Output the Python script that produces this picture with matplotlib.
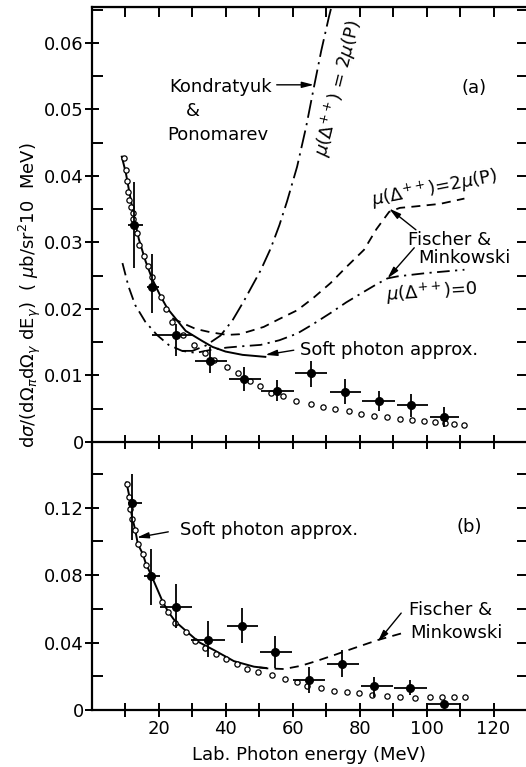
#!/usr/bin/env python3
"""Radiative pi+ p scattering: photon spectra, panels (a) and (b)."""

import numpy as np
import matplotlib

matplotlib.use("Agg")
import matplotlib.pyplot as plt

plt.rcParams["font.family"] = ["DejaVu Sans"]
plt.rcParams["mathtext.fontset"] = "dejavusans"

# ---------------- panel (a) ----------------
A_CIRC_X = [9.6, 10.1, 10.6, 10.9, 11.2, 11.7, 12.2, 12.4, 13.4, 14.1, 15.4, 16.6, 18.0,
            20.6, 22.1, 24.0, 27.3, 30.4, 33.8, 36.5, 40.2, 43.5, 47.2, 50.2, 53.5, 57.0,
            61.1, 65.3, 69.1, 72.7, 76.7, 80.3, 84.3, 88.1, 91.9, 95.7, 99.2, 102.6,
            105.5, 108.1, 111.1]
A_CIRC_Y = [0.0427, 0.0409, 0.0393, 0.0376, 0.0364, 0.0354, 0.0344, 0.0336, 0.0314, 0.0296,
            0.0279, 0.0265, 0.0248, 0.0218, 0.0200, 0.0180, 0.0161, 0.0146, 0.0134, 0.0123,
            0.0113, 0.0103, 0.0092, 0.0084, 0.0074, 0.0069, 0.0062, 0.0057, 0.0052, 0.0049,
            0.0046, 0.0042, 0.0039, 0.0037, 0.0035, 0.0033, 0.0032, 0.0030, 0.0029, 0.0027,
            0.0025]

A_PT_X = [12.6, 17.9, 25.1, 35.2, 45.4, 55.3, 65.5, 75.5, 85.7, 95.3, 105.3]
A_PT_Y = [0.0327, 0.0233, 0.0161, 0.0122, 0.0095, 0.0077, 0.0103, 0.0075, 0.0062, 0.0055, 0.0037]
A_PT_XLO = [10.7, 16.4, 17.9, 30.9, 40.9, 50.5, 60.8, 71.0, 80.6, 91.0, 101.0]
A_PT_XHI = [15.2, 19.9, 30.2, 40.4, 50.4, 60.5, 70.3, 80.5, 90.6, 100.5, 109.8]
A_PT_YLO = [0.0261, 0.0194, 0.0129, 0.0103, 0.0077, 0.0061, 0.0083, 0.0057, 0.0047, 0.0037, 0.0023]
A_PT_YHI = [0.0391, 0.0283, 0.0178, 0.0143, 0.0113, 0.0093, 0.0122, 0.0095, 0.0077, 0.0072, 0.0052]

A_SOFT_X = [8.9, 10.1, 11.0, 12.4, 14.0, 16.0, 18.0, 20.4, 22.5, 25.4, 28.0, 32.9, 36.0,
            39.9, 45.0, 51.8]
A_SOFT_Y = [0.0429, 0.0405, 0.0380, 0.0342, 0.0305, 0.0272, 0.0245, 0.0220, 0.0201, 0.0183,
            0.0167, 0.0152, 0.0143, 0.0136, 0.0131, 0.0128]

A_FM2_X = [24.0, 27.4, 31.0, 35.4, 40.4, 44.0, 47.4, 51.3, 56.0, 61.3, 66.0, 71.3, 76.0,
           81.3, 85.0, 88.8, 92.0, 96.3, 104.0, 111.3]
A_FM2_Y = [0.0186, 0.0178, 0.0170, 0.0165, 0.0161, 0.0162, 0.0167, 0.0173, 0.0185, 0.0198,
           0.0216, 0.0239, 0.0263, 0.0289, 0.0320, 0.0346, 0.0352, 0.0354, 0.0358, 0.0366]

A_FM0_X = [9.1, 10.9, 12.9, 15.9, 19.4, 22.9, 26.9, 31.0, 36.0, 40.4, 45.0, 50.4, 56.0,
           61.3, 66.0, 71.3, 76.0, 81.3, 85.0, 88.3, 91.3, 100.0, 111.3]
A_FM0_Y = [0.0269, 0.0234, 0.0206, 0.0181, 0.0161, 0.0146, 0.0137, 0.0134, 0.0139, 0.0142,
           0.0144, 0.0146, 0.0153, 0.0163, 0.0177, 0.0194, 0.0210, 0.0226, 0.0237, 0.0246,
           0.0249, 0.0254, 0.0259]

A_KP_X = [26.9, 30.0, 34.0, 38.4, 42.0, 45.4, 48.0, 50.4, 53.4, 56.0, 58.3, 61.3, 64.0,
          66.3, 68.5, 70.8, 71.6]
A_KP_Y = [0.0137, 0.0137, 0.0145, 0.0160, 0.0183, 0.0212, 0.0236, 0.0258, 0.0291, 0.0326,
          0.0362, 0.0414, 0.0474, 0.0533, 0.0588, 0.0639, 0.0655]

# ---------------- panel (b) ----------------
B_CIRC_X = [10.4, 11.2, 11.4, 12.1, 12.9, 13.7, 15.2, 16.1, 21.0, 22.7, 24.9, 28.1, 30.7,
            33.9, 37.2, 39.9, 43.2, 46.2, 49.7, 53.7, 57.7, 61.2, 64.4, 68.4, 72.2, 76.2,
            79.9, 83.7, 88.1, 92.1, 96.4, 100.9, 104.6, 108.2, 111.4]
B_CIRC_Y = [0.1343, 0.1264, 0.1191, 0.1132, 0.1067, 0.0982, 0.0924, 0.0863, 0.0642, 0.0583,
            0.0514, 0.0460, 0.0411, 0.0369, 0.0332, 0.0300, 0.0273, 0.0245, 0.0225, 0.0206,
            0.0186, 0.0164, 0.0144, 0.0132, 0.0114, 0.0105, 0.0099, 0.0089, 0.0083, 0.0079,
            0.0073, 0.0075, 0.0079, 0.0079, 0.0075]

B_PT_X = [12.1, 17.7, 25.1, 34.6, 44.7, 54.6, 64.9, 74.6, 84.4, 95.1, 105.1]
B_PT_Y = [0.1231, 0.0796, 0.0612, 0.0415, 0.0498, 0.0342, 0.0178, 0.0273, 0.0144, 0.0129, 0.0034]
B_PT_XLO = [10.9, 15.4, 20.4, 29.7, 40.2, 50.2, 60.1, 70.1, 80.4, 90.4, 100.4]
B_PT_XHI = [14.9, 20.4, 29.9, 39.6, 49.7, 59.7, 69.7, 79.7, 89.9, 100.2, 110.2]
B_PT_YLO = [0.1007, 0.0622, 0.0484, 0.0316, 0.0395, 0.0247, 0.0103, 0.0194, 0.0079, 0.0089, 0.0010]
B_PT_YHI = [0.1403, 0.0958, 0.0747, 0.0529, 0.0603, 0.0439, 0.0257, 0.0356, 0.0194, 0.0178, 0.0059]

B_SOFT_X = [10.3, 11.2, 11.5, 12.1, 12.9, 13.7, 15.2, 16.1, 17.7, 21.0, 22.7, 24.9, 28.4,
            32.0, 36.4, 42.4, 48.4, 52.0]
B_SOFT_Y = [0.1350, 0.1264, 0.1195, 0.1135, 0.1070, 0.0985, 0.0925, 0.0868, 0.0800, 0.0648,
            0.0585, 0.0525, 0.0464, 0.0402, 0.0356, 0.0290, 0.0257, 0.0249]

B_FM_X = [50.0, 52.4, 57.4, 62.4, 67.0, 72.4, 78.0, 85.4, 92.4]
B_FM_Y = [0.0252, 0.0247, 0.0243, 0.0262, 0.0290, 0.0326, 0.0365, 0.0415, 0.0454]

FS = 13
ARROW = dict(arrowstyle="-|>,head_width=0.18,head_length=0.7", color="k", lw=1.0,
             shrinkA=0, shrinkB=0)


def style_axes(ax, ymax, ymajor, yminor, ylabels, xlabels):
    ax.set_xlim(0, 130)
    ax.set_ylim(0, ymax)
    for sp in ax.spines.values():
        sp.set_linewidth(1.6)
    ax.spines["right"].set_visible(False)
    ax.set_yticks(ymajor)
    ax.set_yticklabels(ylabels)
    ax.set_yticks(yminor, minor=True)
    ax.tick_params(axis="y", which="major", direction="inout", length=10, width=1.4,
                   labelsize=FS, pad=1)
    ax.tick_params(axis="y", which="minor", direction="in", length=8, width=1.4)
    ax.tick_params(axis="x", which="both", direction="inout", length=10, width=1.4,
                   labelsize=FS, pad=2)
    secy = ax.secondary_yaxis("right")
    secy.set_yticks(np.sort(np.concatenate([ymajor[1:], yminor])))
    secy.tick_params(direction="in", length=7, width=1.4, labelright=False)
    secy.spines["right"].set_visible(False)
    if not xlabels:
        ax.tick_params(axis="x", labelbottom=False)


def plot_points(ax, x, y, xlo, xhi, ylo, yhi):
    x = np.asarray(x)
    y = np.asarray(y)
    xerr = [x - np.asarray(xlo), np.asarray(xhi) - x]
    yerr = [y - np.asarray(ylo), np.asarray(yhi) - y]
    ax.errorbar(x, y, xerr=xerr, yerr=yerr, fmt="o", color="k", ms=5.5,
                elinewidth=1.3, capsize=0, zorder=5)


fig = plt.figure(figsize=(5.26, 7.67), dpi=100)
ax_a = fig.add_axes([92 / 526, 325 / 767, 435 / 526, 435 / 767])
ax_b = fig.add_axes([92 / 526, 57 / 767, 435 / 526, 268 / 767])
ax_b.patch.set_alpha(0)

# ---- panel (a)
style_axes(ax_a, 0.0654, np.arange(0, 0.0601, 0.01), np.arange(0.005, 0.0651, 0.01),
           ["0", "0.01", "0.02", "0.03", "0.04", "0.05", "0.06"], False)
ax_a.set_xticks(np.arange(10, 130, 10))
sec = ax_a.secondary_xaxis("top")
sec.set_xticks(np.arange(10, 130, 10))
sec.tick_params(direction="in", length=7, width=1.4, labeltop=False)

ax_a.plot(A_SOFT_X, A_SOFT_Y, color="k", lw=1.4)
ax_a.plot(A_FM2_X, A_FM2_Y, color="k", lw=1.3, ls=(0, (5, 3.5)))
ax_a.plot(A_FM0_X, A_FM0_Y, color="k", lw=1.3, ls=(0, (7, 3, 1.2, 3)))
ax_a.plot(A_KP_X, A_KP_Y, color="k", lw=1.3, ls=(0, (10, 3, 1.2, 3)), clip_on=True)
ax_a.plot(A_CIRC_X, A_CIRC_Y, "o", mfc="white", mec="k", ms=3.8, mew=0.9, zorder=4)
plot_points(ax_a, A_PT_X, A_PT_Y, A_PT_XLO, A_PT_XHI, A_PT_YLO, A_PT_YHI)

ax_a.text(38.5, 0.0533, "Kondratyuk", fontsize=FS, ha="center", va="center")
ax_a.text(30.0, 0.0497, "&", fontsize=FS, ha="center", va="center")
ax_a.text(37.5, 0.0461, "Ponomarev", fontsize=FS, ha="center", va="center")
ax_a.annotate("", xy=(66.3, 0.0537), xytext=(55.2, 0.0537), arrowprops=ARROW)
ax_a.text(73.8, 0.0531, r"$\mu$($\Delta^{++}$) = 2$\mu$(P)", fontsize=FS, rotation=76,
          ha="center", va="center", rotation_mode="anchor")
ax_a.text(114.3, 0.0532, "(a)", fontsize=FS, ha="center", va="center")

ax_a.text(102.3, 0.0381, r"$\mu$($\Delta^{++}$)=2$\mu$(P)", fontsize=FS, rotation=11,
          ha="center", va="center", rotation_mode="anchor")
ax_a.annotate("", xy=(88.8, 0.0351), xytext=(96.8, 0.0319), arrowprops=ARROW)
ax_a.text(106.8, 0.0304, "Fischer &", fontsize=FS, ha="center", va="center")
ax_a.text(111.3, 0.0276, "Minkowski", fontsize=FS, ha="center", va="center")
ax_a.annotate("", xy=(88.3, 0.0246), xytext=(96.3, 0.0292), arrowprops=ARROW)
ax_a.text(101.5, 0.0226, r"$\mu$($\Delta^{++}$)=0", fontsize=FS, rotation=4,
          ha="center", va="center", rotation_mode="anchor")
ax_a.text(88.8, 0.0138, "Soft photon approx.", fontsize=FS, ha="center", va="center")
ax_a.annotate("", xy=(51.8, 0.0131), xytext=(60.3, 0.0138), arrowprops=ARROW)

# ---- panel (b)
style_axes(ax_b, 0.159, np.arange(0, 0.121, 0.04), np.arange(0.02, 0.141, 0.04),
           ["0", "0.04", "0.08", "0.12"], True)
ax_b.spines["top"].set_visible(False)
ax_b.set_xticks(np.arange(20, 121, 20))
ax_b.set_xticks(np.arange(10, 131, 20), minor=True)

ax_b.plot(B_SOFT_X, B_SOFT_Y, color="k", lw=1.4)
ax_b.plot(B_FM_X, B_FM_Y, color="k", lw=1.3, ls=(0, (5, 3.5)))
ax_b.plot(B_CIRC_X, B_CIRC_Y, "o", mfc="white", mec="k", ms=3.8, mew=0.9, zorder=4)
plot_points(ax_b, B_PT_X, B_PT_Y, B_PT_XLO, B_PT_XHI, B_PT_YLO, B_PT_YHI)

ax_b.text(52.8, 0.1067, "Soft photon approx.", fontsize=FS, ha="center", va="center")
ax_b.annotate("", xy=(13.4, 0.1023), xytext=(22.8, 0.1057), arrowprops=ARROW)
ax_b.text(112.8, 0.1086, "(b)", fontsize=FS, ha="center", va="center")
ax_b.text(107.1, 0.0593, "Fischer &", fontsize=FS, ha="center", va="center")
ax_b.text(108.9, 0.0454, "Minkowski", fontsize=FS, ha="center", va="center")
ax_b.annotate("", xy=(85.4, 0.0405), xytext=(92.4, 0.0575), arrowprops=ARROW)

ax_b.set_xlabel("Lab. Photon energy (MeV)", fontsize=FS, labelpad=6)
fig.text(30 / 526, 1 - 295 / 767,
         r"d$\sigma$/(d$\Omega_\pi$d$\Omega_\gamma$ dE$_\gamma$)  ( $\mu$b/sr$^2$10  MeV)",
         rotation=90, fontsize=FS, ha="center", va="center")

fig.savefig("out.png", dpi=100)
